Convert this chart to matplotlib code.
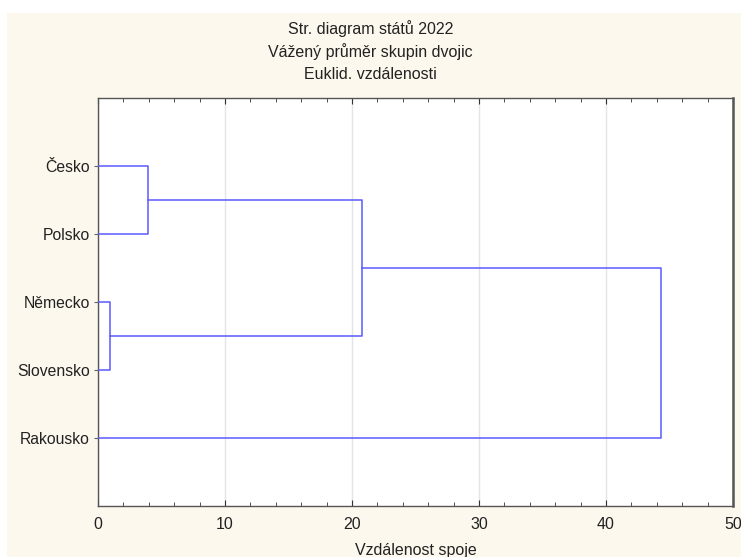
import matplotlib.pyplot as plt
from matplotlib.patches import Rectangle
from matplotlib.ticker import MultipleLocator

plt.rcParams['font.family'] = ['Liberation Sans', 'DejaVu Sans']

# leaves (top to bottom) and merges: (cluster a, cluster b, distance)
labels = ['Česko', 'Polsko', 'Německo', 'Slovensko', 'Rakousko']
merge_a = [0, 2, 5, 7]
merge_b = [1, 3, 6, 4]
merge_dist = [3.95, 0.95, 20.8, 44.3]

title_lines = ['Str. diagram států 2022', 'Vážený průměr skupin dvojic', 'Euklid. vzdálenosti']
x_label = 'Vzdálenost spoje'

line_col = '#5a5aff'

fig = plt.figure(figsize=(7.41, 5.57), dpi=100)
fig.patch.set_facecolor('white')
bg = Rectangle((7 / 741, 0), 1, 1 - 13 / 557, transform=fig.transFigure,
               facecolor='#fdf8ee', edgecolor='none', zorder=-10)
fig.patches.append(bg)

ax = fig.add_axes([98 / 741, 51 / 557, 635 / 741, 408 / 557])
ax.set_zorder(5)
ax.set_facecolor('white')

# positions of clusters: leaves first, then each merge
pos = [i + 1 for i in range(len(labels))]
hgt = [0.0] * len(labels)
for a, b, d in zip(merge_a, merge_b, merge_dist):
    ya, yb = pos[a], pos[b]
    ax.plot([hgt[a], d, d, hgt[b]], [ya, ya, yb, yb], color=line_col, lw=1.1, zorder=3)
    pos.append((ya + yb) / 2)
    hgt.append(d)

ax.set_xlim(0, 50)
ax.set_ylim(6, 0)
ax.set_yticks(range(1, len(labels) + 1))
ax.set_yticklabels(labels, fontsize=11.3, color='#222222')
ax.xaxis.set_major_locator(MultipleLocator(10))
ax.xaxis.set_minor_locator(MultipleLocator(2))
ax.grid(axis='x', which='major', color='#e4e4e4', lw=1)
ax.set_axisbelow(True)
ax.tick_params(axis='x', which='both', direction='in', top=True, labelsize=11.5,
               colors='#333333', labelcolor='#222222', pad=8)
ax.tick_params(axis='x', which='major', length=4)
ax.tick_params(axis='x', which='minor', length=3)
ax.tick_params(axis='y', direction='out', length=3, pad=3, colors='#666666',
               labelcolor='#222222')
for s in ax.spines.values():
    s.set_color('#555555')
    s.set_linewidth(1)
ax.spines['right'].set_linewidth(1.8)

ax.set_xlabel(x_label, fontsize=11.5, color='#222222', labelpad=8)

for i, t in enumerate(title_lines):
    fig.text(0.5, 1 - (29 + 23 * i) / 557, t, ha='center', va='center', fontsize=11.5,
             color='#222222')

fig.savefig('out.png', dpi=100)
